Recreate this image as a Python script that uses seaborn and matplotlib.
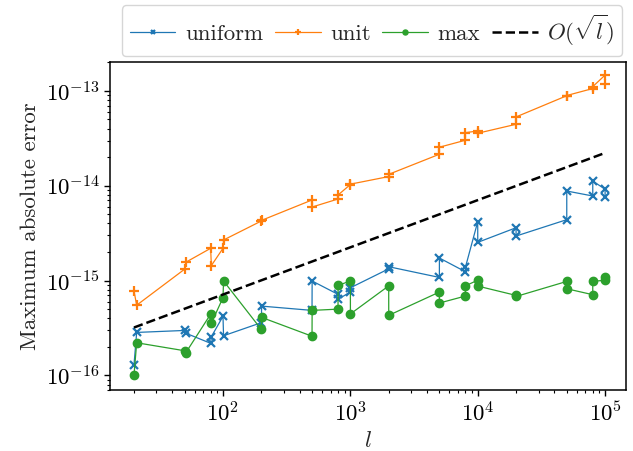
import numpy as np
import pandas as pd
import matplotlib
matplotlib.use("Agg")
import matplotlib.pyplot as plt
import seaborn as sns

# problem sizes (each size l is followed by l+1)
l_values = [20, 21, 50, 51, 80, 81, 100, 101, 200, 201, 500, 501, 800, 801,
            1000, 1001, 2000, 2001, 5000, 5001, 8000, 8001, 10000, 10001,
            20000, 20001, 50000, 50001, 80000, 80001, 100000, 100001]

uniform_err = [1.28e-16, 2.84e-16, 2.98e-16, 2.79e-16, 2.18e-16, 2.56e-16,
               4.2e-16, 2.62e-16, 3.6e-16, 5.38e-16, 4.85e-16, 9.9e-16,
               7.16e-16, 6.34e-16, 7.6e-16, 8.4e-16, 1.33e-15, 1.40e-15,
               1.08e-15, 1.73e-15, 1.24e-15, 1.38e-15, 4.18e-15, 2.53e-15,
               3.61e-15, 2.95e-15, 4.39e-15, 8.8e-15, 7.8e-15, 1.12e-14,
               9.2e-15, 7.6e-15]

unit_err = [7.8e-16, 5.5e-16, 1.32e-15, 1.56e-15, 2.19e-15, 1.44e-15,
            2.19e-15, 2.68e-15, 4.25e-15, 4.32e-15, 7.08e-15, 5.97e-15,
            7.25e-15, 8.0e-15, 1.03e-14, 1.04e-14, 1.25e-14, 1.32e-14,
            2.15e-14, 2.55e-14, 3.02e-14, 3.63e-14, 3.78e-14, 3.58e-14,
            4.45e-14, 5.32e-14, 8.9e-14, 8.95e-14, 1.06e-13, 1.11e-13,
            1.47e-13, 1.17e-13]

max_err = [1.0e-16, 2.21e-16, 1.82e-16, 1.73e-16, 4.43e-16, 3.56e-16,
           6.6e-16, 9.9e-16, 3.05e-16, 4.09e-16, 2.59e-16, 4.85e-16,
           5.0e-16, 8.9e-16, 9.9e-16, 4.45e-16, 8.8e-16, 4.3e-16,
           7.57e-16, 5.8e-16, 6.87e-16, 8.8e-16, 1.01e-15, 8.75e-16,
           6.98e-16, 6.8e-16, 9.8e-16, 8.2e-16, 7.1e-16, 9.8e-16,
           1.01e-15, 1.08e-15]

ref_l = [20, 100000]
ref_err = [3.2e-16, 2.22e-14]

series_names = ["uniform", "unit", "max"]
ref_label = r"$O(\sqrt{l})$"

sns.set_style("ticks")
plt.rcParams["font.family"] = ["cmr10", "DejaVu Serif"]
plt.rcParams["mathtext.fontset"] = "cm"
plt.rcParams["axes.formatter.use_mathtext"] = True
plt.rcParams["axes.unicode_minus"] = False
plt.rcParams["axes.edgecolor"] = "black"
plt.rcParams["xtick.color"] = "black"
plt.rcParams["ytick.color"] = "black"

colors = sns.color_palette("tab10")
fig, ax = plt.subplots(figsize=(6.33, 4.51), dpi=100)

styles = [("x", 5.5, 1.6), ("+", 6.5, 1.6), ("o", 6, 1.0)]
for name, vals, col, (mk, ms, mew) in zip(series_names,
                                          [uniform_err, unit_err, max_err],
                                          colors[:3], styles):
    df = pd.DataFrame({"l": l_values, "err": vals})
    sns.lineplot(data=df, x="l", y="err", ax=ax, sort=False, estimator=None,
                 color=col, linewidth=0.9, marker=mk, markersize=ms,
                 markeredgewidth=mew, markeredgecolor=col, label=name)

ref_df = pd.DataFrame({"l": ref_l, "err": ref_err})
sns.lineplot(data=ref_df, x="l", y="err", ax=ax, sort=False, estimator=None,
             color="black", linewidth=1.8, linestyle="--", label=ref_label)

ax.set_xscale("log")
ax.set_yscale("log")
ax.set_xlim(13.0, 1.46e5)
ax.set_ylim(10 ** -16.155, 10 ** -12.695)
ax.set_xlabel(r"$l$", fontsize=16.5)
ax.set_ylabel("Maximum absolute error", fontsize=16.5)
ax.tick_params(axis="both", which="major", labelsize=16.5, length=4, width=1)
ax.tick_params(axis="both", which="minor", length=2.5, width=0.8)
for sp in ax.spines.values():
    sp.set_visible(True)
    sp.set_linewidth(1.1)

ax.legend(loc="lower right", bbox_to_anchor=(0.993, 1.017), ncol=4,
          fontsize=16.5, frameon=True, markerscale=0.6, handlelength=2.0,
          columnspacing=0.5, handletextpad=0.42, borderaxespad=0.0,
          borderpad=0.35, fancybox=True, framealpha=0.8, edgecolor="0.8")

fig.subplots_adjust(left=0.174, right=0.989, bottom=0.135, top=0.8625)
fig.savefig("out.png", dpi=100)
